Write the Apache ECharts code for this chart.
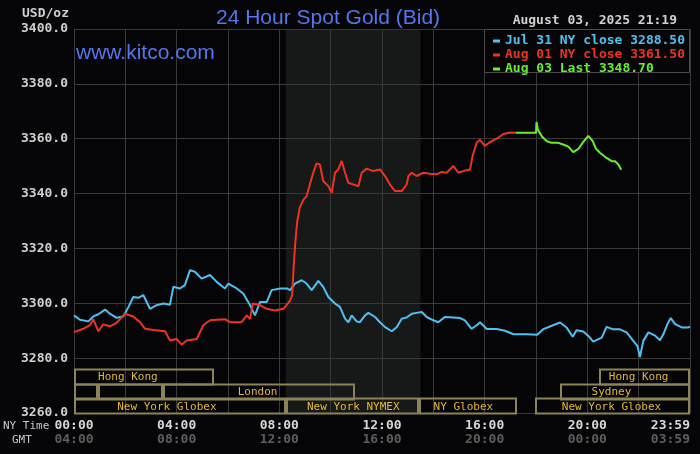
<!DOCTYPE html>
<html>
<head>
<meta charset="utf-8">
<script src="https://cdn.jsdelivr.net/npm/echarts@6/dist/echarts.min.js"></script>
<style>
  html, body { margin: 0; padding: 0; background: #050507; }
  #chart { width: 700px; height: 454px; }
</style>
</head>
<body>
<div id="chart"></div>
<script>
// ---------------- DATA ----------------
const yTicks = [3260, 3280, 3300, 3320, 3340, 3360, 3380, 3400];
const xTickHours = [0, 4, 8, 12, 16, 20, 24];
const nyTimeLabels = ['00:00', '04:00', '08:00', '12:00', '16:00', '20:00', '23:59'];
const gmtTimeLabels = ['04:00', '08:00', '12:00', '16:00', '20:00', '00:00', '03:59'];

const legendNames = ['Jul 31 NY close 3288.50', 'Aug 01 NY close 3361.50', 'Aug 03 Last 3348.70'];

// [hour (NY time), price]
const jul31 = [
  [0,3295.6],[0.23,3294.0],[0.56,3293.4],[0.75,3295.2],[0.95,3296.0],[1.21,3297.7],[1.4,3296.2],[1.66,3294.7],
  [1.92,3295.2],[2.12,3298.6],[2.31,3302.3],[2.51,3302.0],[2.7,3303.0],[2.96,3298.0],[3.22,3299.3],[3.48,3299.9],
  [3.74,3299.5],[3.87,3306.0],[4.13,3305.4],[4.32,3306.6],[4.52,3312.1],[4.71,3311.5],[4.97,3309.0],[5.3,3310.3],
  [5.56,3307.8],[5.88,3305.4],[6.01,3307.2],[6.34,3305.4],[6.6,3303.5],[6.86,3299.3],[7.05,3295.6],[7.25,3300.5],
  [7.51,3300.5],[7.7,3304.8],[8.03,3305.4],[8.29,3305.4],[8.42,3304.8],[8.61,3307.2],[8.87,3308.4],[9.06,3307.2],
  [9.26,3304.8],[9.52,3308.2],[9.71,3306.0],[9.91,3302.3],[10.17,3299.9],[10.36,3298.7],[10.56,3294.4],[10.69,3293.1],
  [10.82,3295.6],[11.01,3293.4],[11.14,3293.1],[11.34,3295.6],[11.47,3296.5],[11.73,3295.0],[11.92,3293.1],[12.12,3291.3],
  [12.38,3289.8],[12.57,3291.3],[12.77,3294.4],[12.96,3294.8],[13.16,3296.2],[13.35,3296.5],[13.55,3296.8],[13.74,3295.0],
  [14.0,3293.8],[14.19,3293.1],[14.45,3295.0],[14.78,3294.8],[15.04,3294.6],[15.23,3293.8],[15.49,3290.7],[15.69,3292.0],
  [15.82,3293.1],[16.08,3290.6],[16.47,3290.6],[16.79,3290.0],[17.12,3288.7],[17.64,3288.7],[18.05,3288.5],[18.29,3290.6],
  [18.61,3291.8],[18.94,3293.0],[19.19,3291.2],[19.43,3287.8],[19.58,3290.2],[19.84,3289.7],[20.04,3288.1],[20.23,3286.0],
  [20.56,3287.5],[20.75,3291.4],[21.01,3290.5],[21.27,3290.5],[21.53,3289.4],[21.79,3286.3],[21.95,3284.5],[22.05,3280.4],
  [22.18,3286.3],[22.38,3289.4],[22.64,3288.2],[22.83,3286.5],[22.96,3288.7],[23.12,3292.4],[23.25,3294.6],[23.42,3292.4],
  [23.68,3291.2],[23.94,3291.2],[24,3291.5]
];

const aug01 = [
  [0,3289.5],[0.36,3290.7],[0.62,3292.0],[0.75,3294.1],[0.95,3289.8],[1.14,3292.3],[1.4,3291.6],[1.66,3292.9],
  [1.99,3296.2],[2.31,3295.2],[2.57,3293.1],[2.77,3290.7],[3.09,3290.3],[3.55,3289.8],[3.74,3286.4],[4.0,3287.0],
  [4.19,3284.9],[4.39,3286.4],[4.78,3287.0],[5.04,3292.0],[5.3,3293.8],[5.56,3294.0],[5.88,3294.2],[6.08,3293.1],
  [6.53,3293.1],[6.73,3295.6],[6.86,3294.2],[6.96,3299.9],[7.25,3299.3],[7.51,3298.0],[7.83,3297.4],[8.16,3298.0],
  [8.42,3301.0],[8.5,3303.0],[8.55,3312.0],[8.62,3322.0],[8.7,3330.0],[8.8,3335.0],[8.94,3337.8],[9.06,3339.0],
  [9.19,3343.3],[9.32,3347.6],[9.45,3351.0],[9.58,3350.6],[9.71,3344.6],[9.91,3342.7],[10.04,3340.3],[10.17,3347.6],
  [10.3,3348.8],[10.43,3351.9],[10.56,3347.6],[10.69,3343.9],[10.88,3343.3],[11.08,3342.7],[11.21,3347.6],[11.4,3349.1],
  [11.66,3348.2],[11.92,3348.8],[12.12,3346.4],[12.31,3343.3],[12.51,3340.9],[12.77,3340.9],[12.96,3343.3],[13.03,3346.4],
  [13.16,3347.6],[13.35,3346.4],[13.61,3347.6],[13.87,3347.2],[14.13,3347.0],[14.32,3347.9],[14.52,3347.6],[14.78,3350.1],
  [14.97,3347.6],[15.17,3348.2],[15.43,3348.8],[15.53,3353.7],[15.69,3358.6],[15.82,3359.6],[16.01,3357.4],[16.21,3358.8],
  [16.47,3360.0],[16.73,3361.7],[16.99,3362.3],[17.22,3362.2]
];

const aug03 = [
  [17.22,3362.2],[18.0,3362.2],[18.02,3366.1],[18.07,3363.4],[18.23,3360.8],[18.42,3359.1],[18.61,3358.5],[18.87,3358.5],
  [19.06,3357.9],[19.26,3357.1],[19.45,3355.1],[19.65,3356.3],[19.84,3358.8],[20.04,3361.0],[20.21,3359.1],[20.34,3356.3],
  [20.49,3354.9],[20.75,3353.0],[20.95,3351.8],[21.08,3351.8],[21.21,3350.6],[21.32,3348.7]
];

// NYMEX pit session (shaded), hours
const nymexHours = [8.25, 13.5];

// market sessions: [start hour, end hour, row, label, label centre hour]
const sessions = [
  [0, 5.45, 0, 'Hong Kong', 2.1],
  [20.45, 24, 0, 'Hong Kong', 22.0],
  [0, 0.95, 1, '', 0],
  [0.95, 3.47, 1, '', 0],
  [3.47, 10.95, 1, 'London', 7.15],
  [18.95, 24, 1, 'Sydney', 20.94],
  [0, 8.26, 2, 'New York Globex', 3.62],
  [8.26, 13.45, 2, 'New York NYMEX', 10.88],
  [13.45, 17.28, 2, 'NY Globex', 15.17],
  [17.98, 24, 2, 'New York Globex', 20.94]
];

// ---------------- CHART ----------------
const MONO = "'DejaVu Sans Mono', 'Liberation Mono', monospace";
const BLUE = '#4fc1f0', RED = '#ee3322', GREEN = '#66ee33';
const GRID_COLOR = '#3a3a3a';
const ROW_H = 16 / 3; // session row height in price units

const chart = echarts.init(document.getElementById('chart'), null, { renderer: 'canvas' });

function xLabel(v) {
  const i = xTickHours.indexOf(v);
  if (i < 0) return '';
  return '{a|' + nyTimeLabels[i] + '}\n{b|' + gmtTimeLabels[i] + '}';
}

const option = {
  backgroundColor: '#050507',
  animation: false,
  title: {
    text: '24 Hour Spot Gold (Bid)',
    left: 211, top: 3,
    textStyle: { color: '#5577ee', fontSize: 21, fontWeight: 'normal', fontFamily: "'Liberation Sans', Arial, sans-serif" }
  },
  grid: { left: 74, right: 10, top: 29, bottom: 41, containLabel: false, outerBoundsMode: 'none' },
  xAxis: {
    type: 'value', min: 0, max: 24, interval: 2,
    axisLine: { show: true, lineStyle: { color: GRID_COLOR } },
    axisTick: { show: false },
    splitLine: { show: true, lineStyle: { color: GRID_COLOR, width: 1 } },
    axisLabel: {
      show: true, margin: 6, formatter: xLabel, showMinLabel: true, showMaxLabel: true,
      alignMaxLabel: 'right', hideOverlap: false,
      rich: {
        a: { color: '#d6d6d6', fontFamily: MONO, fontSize: 13, fontWeight: 'bold', lineHeight: 14 },
        b: { color: '#5e5e5e', fontFamily: MONO, fontSize: 13, fontWeight: 'bold', lineHeight: 14 }
      }
    }
  },
  yAxis: {
    type: 'value', min: yTicks[0], max: yTicks[yTicks.length - 1], interval: 20,
    axisLine: { show: true, lineStyle: { color: GRID_COLOR } },
    axisTick: { show: false },
    splitLine: { show: true, lineStyle: { color: GRID_COLOR, width: 1 } },
    axisLabel: {
      show: true, margin: 6, color: '#cfcfcf', fontFamily: MONO, fontSize: 13, fontWeight: 'bold',
      showMinLabel: true, showMaxLabel: true, hideOverlap: false,
      formatter: v => v.toFixed(1)
    }
  },
  legend: {
    orient: 'vertical', left: 488, top: 29, z: 60,
    icon: 'rect', itemWidth: 7, itemHeight: 3, itemGap: 0,
    selectedMode: false,
    textStyle: { fontFamily: MONO, fontSize: 13, fontWeight: 'bold', lineHeight: 14 },
    data: [
      { name: legendNames[0], textStyle: { color: BLUE } },
      { name: legendNames[1], textStyle: { color: RED } },
      { name: legendNames[2], textStyle: { color: GREEN } }
    ]
  },
  graphic: [
    { type: 'rect', z: 50, shape: { x: 484.5, y: 29.5, width: 205, height: 43 },
      style: { fill: '#050507', stroke: '#4a4a4a', lineWidth: 1 } },
    { type: 'text', z: 50, x: 22, y: 14,
      style: { text: 'USD/oz', fill: '#cfcfcf', font: 'bold 13px ' + MONO, textVerticalAlign: 'middle' } },
    { type: 'text', z: 50, x: 677, y: 21,
      style: { text: 'August 03, 2025 21:19', fill: '#d0d0d0', font: 'bold 13px ' + MONO, textAlign: 'right', textVerticalAlign: 'middle' } },
    { type: 'text', z: 50, x: 76, y: 53,
      style: { text: 'www.kitco.com', fill: '#5577ee', font: "21px 'Liberation Sans', Arial, sans-serif", textVerticalAlign: 'middle' } },
    { type: 'text', z: 50, x: 3, y: 426,
      style: { text: 'NY Time', fill: '#c8c8c8', font: '11px ' + MONO, textVerticalAlign: 'middle' } },
    { type: 'text', z: 50, x: 12, y: 440,
      style: { text: 'GMT', fill: '#c8c8c8', font: '11px ' + MONO, textVerticalAlign: 'middle' } }
  ],
  series: [
    {
      type: 'custom', name: 'sessions', z: 1, clip: false, silent: true,
      data: sessions.map(s => [s[0], s[1], s[2], s[4]]),
      encode: { x: [0, 1], y: -1 },
      renderItem: function (params, api) {
        const s = sessions[params.dataIndex];
        const top = yTicks[0] + (3 - s[2]) * ROW_H;
        const bot = top - ROW_H;
        const p1 = api.coord([s[0], top]);
        const p2 = api.coord([s[1], bot]);
        const children = [{
          type: 'rect',
          shape: { x: Math.round(p1[0]) + 1, y: Math.round(p1[1]) + 0.5, width: Math.round(p2[0] - p1[0]) - 2, height: Math.round(p2[1] - p1[1]) },
          style: { fill: 'none', stroke: '#8a8456', lineWidth: 2 }
        }];
        if (s[3]) {
          const lx = api.coord([s[4], top])[0];
          children.push({
            type: 'text',
            style: { text: s[3], x: lx, y: (p1[1] + p2[1]) / 2 + 1, textAlign: 'center', textVerticalAlign: 'middle',
                     fill: '#e3b832', font: '11px ' + MONO }
          });
        }
        return { type: 'group', children: children };
      },
      markArea: {
        silent: true,
        itemStyle: { color: 'rgba(48,54,48,0.4)' },
        data: [[{ xAxis: nymexHours[0], yAxis: yTicks[yTicks.length - 1] }, { xAxis: nymexHours[1], yAxis: yTicks[0] }]]
      }
    },
    { type: 'line', name: legendNames[0], data: jul31, showSymbol: false, z: 3, color: BLUE,
      lineStyle: { color: BLUE, width: 2 } },
    { type: 'line', name: legendNames[1], data: aug01, showSymbol: false, z: 4, color: RED,
      lineStyle: { color: RED, width: 2 } },
    { type: 'line', name: legendNames[2], data: aug03, showSymbol: false, z: 5, color: GREEN,
      lineStyle: { color: GREEN, width: 2 } }
  ]
};

chart.setOption(option);
</script>
</body>
</html>
